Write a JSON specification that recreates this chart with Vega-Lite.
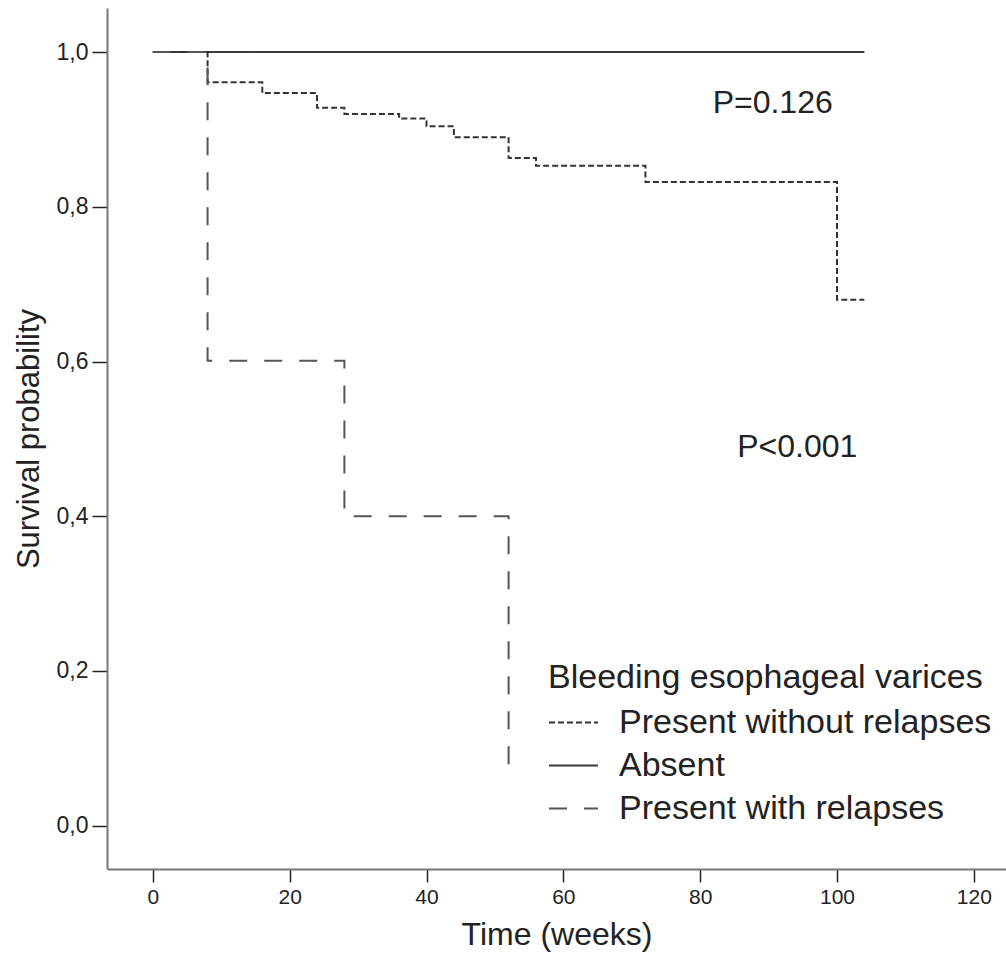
{
  "$schema": "https://vega.github.io/schema/vega-lite/v6.json",
  "autosize": {"type": "none"},
  "padding": {"left": 107, "top": 8, "right": 0, "bottom": 88},
  "width": 899,
  "height": 861,
  "background": "white",
  "config": {
    "font": "Liberation Sans",
    "view": {"stroke": null},
    "axis": {"grid": false}
  },
  "datasets": {
    "curves": [
      {"series": "Absent", "time": 0, "surv": 1.0},
      {"series": "Absent", "time": 104, "surv": 1.0},
      {"series": "Present without relapses", "time": 0, "surv": 1.0},
      {"series": "Present without relapses", "time": 8, "surv": 0.961},
      {"series": "Present without relapses", "time": 16, "surv": 0.947},
      {"series": "Present without relapses", "time": 24, "surv": 0.928},
      {"series": "Present without relapses", "time": 28, "surv": 0.920},
      {"series": "Present without relapses", "time": 36, "surv": 0.914},
      {"series": "Present without relapses", "time": 40, "surv": 0.904},
      {"series": "Present without relapses", "time": 44, "surv": 0.890},
      {"series": "Present without relapses", "time": 52, "surv": 0.863},
      {"series": "Present without relapses", "time": 56, "surv": 0.853},
      {"series": "Present without relapses", "time": 72, "surv": 0.832},
      {"series": "Present without relapses", "time": 100, "surv": 0.680},
      {"series": "Present without relapses", "time": 104, "surv": 0.680},
      {"series": "Present with relapses", "time": 0, "surv": 1.0},
      {"series": "Present with relapses", "time": 8, "surv": 0.601},
      {"series": "Present with relapses", "time": 28, "surv": 0.400},
      {"series": "Present with relapses", "time": 52, "surv": 0.062}
    ],
    "notes": [
      {"label": "P=0.126", "time": 90.6, "surv": 0.934},
      {"label": "P<0.001", "time": 94.2, "surv": 0.49}
    ]
  },
  "layer": [
    {
      "data": {"name": "curves"},
      "mark": {"type": "line", "interpolate": "step-after", "strokeWidth": 2},
      "encoding": {
        "x": {
          "field": "time", "type": "quantitative",
          "scale": {"domain": [-6.7, 124.7], "nice": false, "zero": false},
          "axis": {
            "values": [0, 20, 40, 60, 80, 100, 120],
            "title": "Time (weeks)",
            "titleFontSize": 32, "titleFontWeight": "normal", "titleColor": "#222",
            "titlePadding": 12,
            "labelFontSize": 21, "labelColor": "#222", "labelPadding": 4,
            "tickSize": 13, "tickColor": "#222", "tickWidth": 1.5,
            "domainColor": "#777", "domainWidth": 2
          }
        },
        "y": {
          "field": "surv", "type": "quantitative",
          "scale": {"domain": [-0.056, 1.057], "nice": false, "zero": false},
          "axis": {
            "values": [0, 0.2, 0.4, 0.6, 0.8, 1.0],
            "labelExpr": "replace(format(datum.value, '.1f'), '.', ',')",
            "title": "Survival probability",
            "titleFontSize": 31, "titleFontWeight": "normal", "titleColor": "#222",
            "titlePadding": 11,
            "labelFontSize": 23, "labelColor": "#222", "labelPadding": 4,
            "tickSize": 15, "tickColor": "#222", "tickWidth": 1.5,
            "domainColor": "#777", "domainWidth": 2
          }
        },
        "strokeDash": {
          "field": "series", "type": "nominal",
          "scale": {
            "domain": ["Present without relapses", "Absent", "Present with relapses"],
            "range": [[6, 3], [1, 0], [18, 17]]
          },
          "legend": {
            "title": "Bleeding esophageal varices",
            "orient": "none",
            "legendX": 441,
            "legendY": 653,
            "padding": 0,
            "titleFontSize": 34, "titleFontWeight": "normal", "titleColor": "#222",
            "titlePadding": 2, "titleLimit": 0,
            "labelFontSize": 34, "labelColor": "#222", "labelOffset": 20, "labelLimit": 0,
            "symbolType": "stroke", "symbolSize": 2401, "symbolStrokeWidth": 2,
            "rowPadding": 0
          }
        },
        "color": {
          "field": "series", "type": "nominal",
          "scale": {
            "domain": ["Present without relapses", "Absent", "Present with relapses"],
            "range": ["#333333", "#3a3a3a", "#555555"]
          },
          "legend": {
            "title": "Bleeding esophageal varices",
            "orient": "none",
            "legendX": 441,
            "legendY": 653,
            "padding": 0,
            "titleFontSize": 34, "titleFontWeight": "normal", "titleColor": "#222",
            "titlePadding": 2, "titleLimit": 0,
            "labelFontSize": 34, "labelColor": "#222", "labelOffset": 20, "labelLimit": 0,
            "symbolType": "stroke", "symbolSize": 2401, "symbolStrokeWidth": 2,
            "rowPadding": 0
          }
        }
      }
    },
    {
      "data": {"name": "notes"},
      "mark": {"type": "text", "fontSize": 32, "color": "#222", "align": "center", "baseline": "middle"},
      "encoding": {
        "x": {"field": "time", "type": "quantitative"},
        "y": {"field": "surv", "type": "quantitative"},
        "text": {"field": "label"}
      }
    }
  ]
}
